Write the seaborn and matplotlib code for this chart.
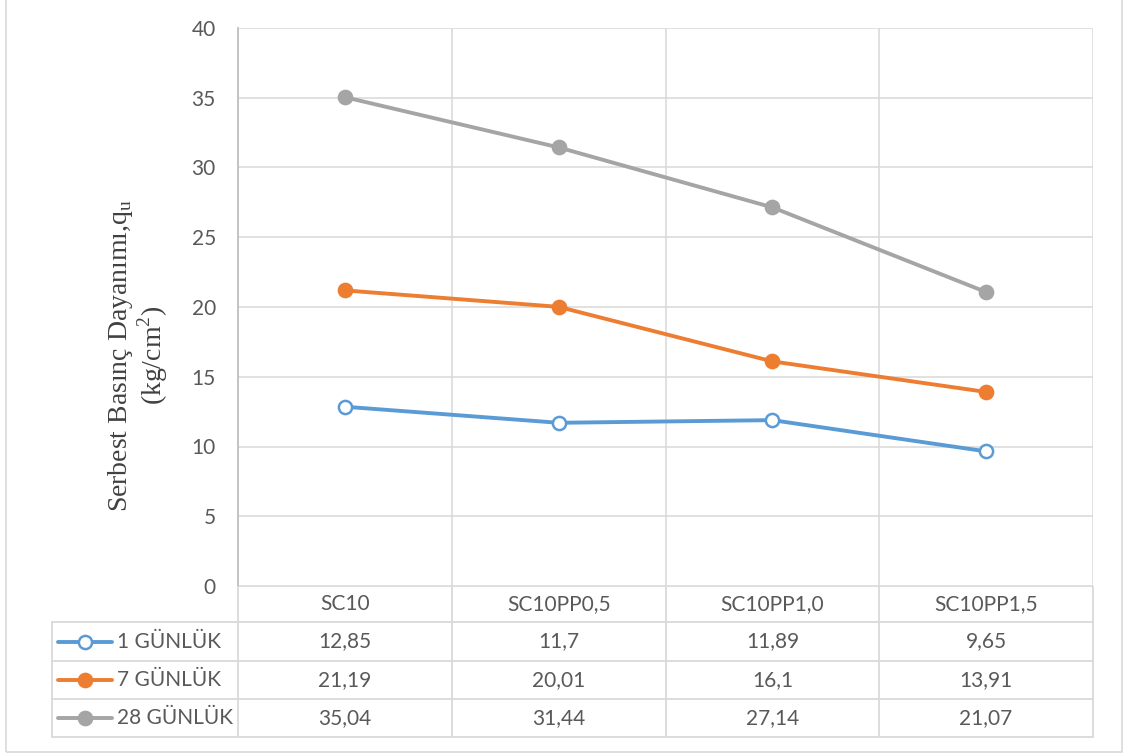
import numpy as np
import pandas as pd
import matplotlib
matplotlib.use("Agg")
import matplotlib.pyplot as plt
import matplotlib.transforms as mtransforms
from matplotlib.lines import Line2D
from matplotlib.patches import Rectangle
import seaborn as sns

sns.set_theme(style="white")
plt.rcParams['font.family'] = ['Lato', 'DejaVu Sans']

categories = ["SC10", "SC10PP0,5", "SC10PP1,0", "SC10PP1,5"]
series_names = ["1 GÜNLÜK", "7 GÜNLÜK", "28 GÜNLÜK"]
gun1 = [12.85, 11.7, 11.89, 9.65]
gun7 = [21.19, 20.01, 16.1, 13.91]
gun28 = [35.04, 31.44, 27.14, 21.07]
table_labels = [["12,85", "11,7", "11,89", "9,65"],
                ["21,19", "20,01", "16,1", "13,91"],
                ["35,04", "31,44", "27,14", "21,07"]]
y_ticks = [0, 5, 10, 15, 20, 25, 30, 35, 40]

colors = ["#5B9BD5", "#ED7D31", "#A5A5A5"]
faces = ["white", "#ED7D31", "#A5A5A5"]
txt_col = "#595959"
grid_col = "#D9D9D9"
fs = 15

W, H = 1130, 753
fig = plt.figure(figsize=(W / 100, H / 100), dpi=100)


def fx(px):
    return px / W


def fy(py):
    return 1 - py / H


# outer chart border
fig.patches.append(Rectangle((fx(6), fy(752)), fx(1122) - fx(6), fy(-5) - fy(752),
                             transform=fig.transFigure, fill=False,
                             edgecolor=grid_col, linewidth=1.2))

# plot area
ax = fig.add_axes([fx(238), fy(586), fx(1093) - fx(238), fy(28) - fy(586)])
df = pd.DataFrame({"pos": np.arange(len(categories))})
for name, vals, c, fc in zip(series_names, [gun1, gun7, gun28], colors, faces):
    sns.lineplot(x=df["pos"], y=vals, ax=ax, color=c, linewidth=2.8,
                 marker="o", markersize=9.5, markerfacecolor=fc,
                 markeredgecolor=c, markeredgewidth=1.8)

ax.set_xlim(-0.5, len(categories) - 0.5)
ax.set_ylim(0, 40)
ax.set_yticks(y_ticks)
ax.set_xticks(np.arange(len(categories) + 1) - 0.5)
ax.set_xticklabels([])
ax.set_xlabel("")
ax.set_ylabel("")
ax.grid(True, color=grid_col, linewidth=1.1)
ax.set_axisbelow(True)
for s in ["top", "right", "bottom"]:
    ax.spines[s].set_visible(False)
ax.spines["left"].set_color("#BFBFBF")
ax.spines["left"].set_linewidth(1.3)
ax.tick_params(axis="y", length=0, pad=16, labelsize=fs, labelcolor=txt_col)
ax.tick_params(axis="x", length=0)

fig.text(fx(138), fy(355),
         "Serbest Basınç Dayanımı,q$_\\mathregular{u}$\n(kg/cm$^\\mathregular{2}$)",
         rotation=90, ha="center", va="center", multialignment="center",
         fontsize=20, color="#404040", family=["Liberation Serif", "DejaVu Serif"],
         linespacing=1.0)

# data table
tab = fig.add_axes([fx(0), fy(753), 1, fy(586) - fy(753)])
tab.set_xlim(0, W)
tab.set_ylim(753, 586)
tab.axis("off")
row_edges = [586, 622, 661, 699, 737]
bt = mtransforms.blended_transform_factory(ax.transData, tab.transData)

lw = 1.3
# horizontal lines
for r in row_edges[1:]:
    tab.plot([52, 1093], [r, r], color=grid_col, lw=lw)
tab.plot([238, 1093], [586, 586], color=grid_col, lw=lw)
# vertical lines
tab.plot([52, 52], [row_edges[1], row_edges[-1]], color=grid_col, lw=lw)
for b in np.arange(len(categories) + 1) - 0.5:
    tab.plot([b, b], [586, 737], color=grid_col, lw=lw, transform=bt)

# header
hy = (row_edges[0] + row_edges[1]) / 2
for i, cat in enumerate(categories):
    tab.text(i, hy, cat, transform=bt, ha="center", va="center",
             fontsize=fs, color=txt_col)

# rows
for k, (name, c, fc) in enumerate(zip(series_names, colors, faces)):
    cy = (row_edges[k + 1] + row_edges[k + 2]) / 2
    tab.add_line(Line2D([58, 112], [cy, cy], color=c, lw=2.8))
    tab.add_line(Line2D([85], [cy], color=c, marker="o", markersize=9.5,
                        markerfacecolor=fc, markeredgecolor=c, markeredgewidth=1.8))
    tab.text(117, cy, name, ha="left", va="center", fontsize=fs, color=txt_col)
    for i, lab in enumerate(table_labels[k]):
        tab.text(i, cy, lab, transform=bt, ha="center", va="center",
                 fontsize=fs, color=txt_col)

fig.savefig("out.png", dpi=100)
